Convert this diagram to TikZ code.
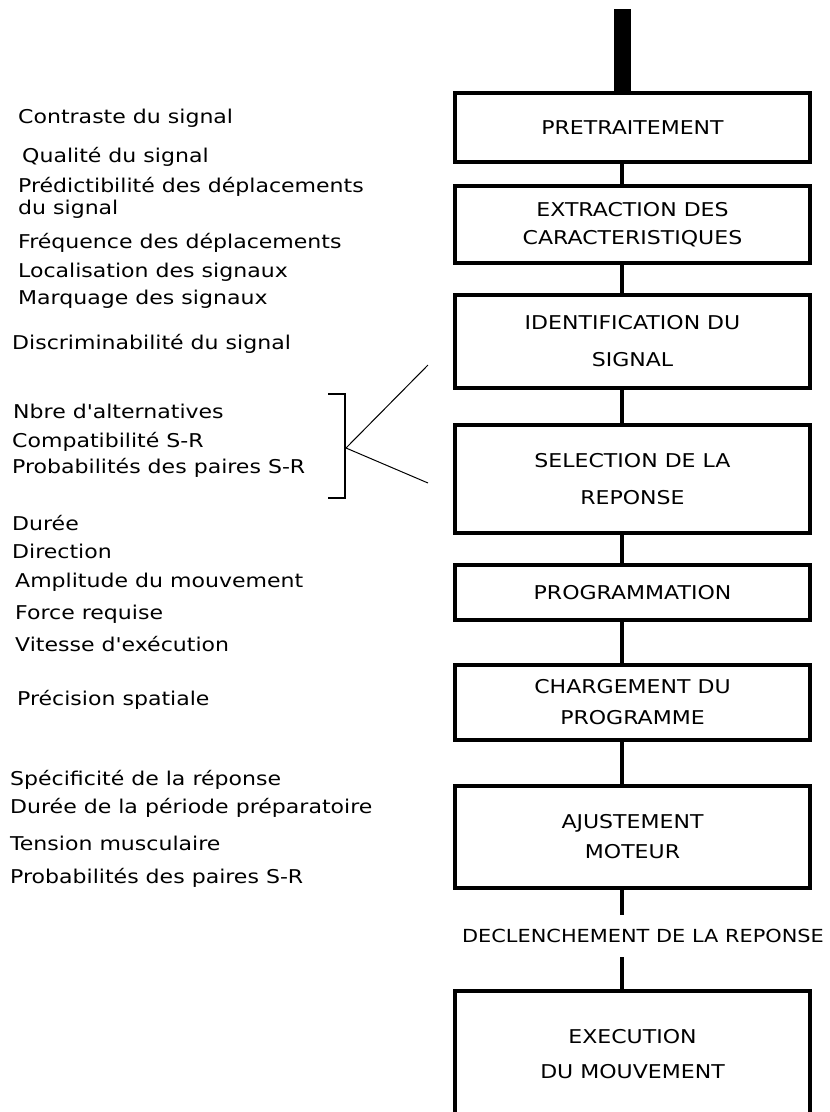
\documentclass[tikz,border=0pt]{standalone}
\usepackage{fontspec}
\newfontfamily\pixfont[FakeStretch=1.16]{DejaVu Sans}
\begin{document}
\begin{tikzpicture}[x=1pt,y=-1pt,
  stage/.style={draw,line width=4.5pt,minimum width=355pt,inner sep=0pt,align=center,
    font=\pixfont\fontsize{19}{24}\selectfont},
  factor/.style={anchor=west,inner sep=0pt,text height=14pt,text depth=4pt,
    font=\pixfont\fontsize{19}{24}\selectfont},
  link/.style={line width=4.5pt}]
\useasboundingbox (0,0) rectangle (830,1112);

% processing stages
\node[stage,minimum height=69pt] (pre) at (632.5,127.5) {PRETRAITEMENT};
\node[stage,minimum height=77pt] (extr) at (632.5,224.5) {EXTRACTION DES\\[4pt]CARACTERISTIQUES};
\node[stage,minimum height=93pt] (ident) at (632.5,341.5) {IDENTIFICATION DU\\[13pt]SIGNAL};
\node[stage,minimum height=108pt] (sel) at (632.5,479) {SELECTION DE LA\\[13pt]REPONSE};
\node[stage,minimum height=55pt] (prog) at (632.5,592.5) {PROGRAMMATION};
\node[stage,minimum height=75pt] (charg) at (632.5,702.5) {CHARGEMENT DU\\[7pt]PROGRAMME};
\node[stage,minimum height=102pt] (ajust) at (632.5,837) {AJUSTEMENT\\[6pt]MOTEUR};
\node[font=\pixfont\fontsize{18}{24}\selectfont,inner sep=0pt,minimum height=42pt] (decl) at (643,936)
  {DECLENCHEMENT DE LA REPONSE};
\node[stage,minimum height=127pt] (exec) at (632.5,1054.5) {EXECUTION\\[11pt]DU MOUVEMENT};

% input bar and links
\coordinate (axis) at (622,0);
\coordinate (feed) at (622,9);
\draw[line width=17pt] (feed) -- (pre.north -| axis);
\foreach \a/\b in {pre/extr,extr/ident,ident/sel,sel/prog,prog/charg,charg/ajust,ajust/decl,decl/exec}
  \draw[link] (\a.south -| axis) -- (\b.north -| axis);

% factors
\node[factor] (c1) at (18,118) {Contraste du signal};
\node[factor] (c2) at (22,157) {Qualité du signal};
\node[factor] (c3) at (18,187) {Prédictibilité des déplacements};
\node[factor] (c4) at (18,209) {du signal};
\node[factor] (c5) at (18,243) {Fréquence des déplacements};
\node[factor] (c6) at (18,272) {Localisation des signaux};
\node[factor] (c7) at (18,299) {Marquage des signaux};
\node[factor] (c8) at (12,344) {Discriminabilité du signal};

\node[factor] (s1) at (13,413) {Nbre d'alternatives};
\node[factor] (s2) at (12,442) {Compatibilité S-R};
\node[factor] (s3) at (12,468) {Probabilités des paires S-R};

\node[factor] (p1) at (12,525) {Durée};
\node[factor] (p2) at (12,553) {Direction};
\node[factor] (p3) at (15,582) {Amplitude du mouvement};
\node[factor] (p4) at (15,614) {Force requise};
\node[factor] (p5) at (15,646) {Vitesse d'exécution};
\node[factor] (p6) at (17,700) {Précision spatiale};

\node[factor] (m1) at (10,780) {Spécificité de la réponse};
\node[factor] (m2) at (10,808) {Durée de la période préparatoire};
\node[factor] (m3) at (10,845) {Tension musculaire};
\node[factor] (m4) at (10,878) {Probabilités des paires S-R};

% bracket and pointers
\coordinate (brtop) at (345,394);
\coordinate (brbot) at (345,498);
\coordinate (brk) at (346,448);
\coordinate (upend) at (428,365);
\coordinate (loend) at (428,483);
\draw[line width=2pt] ([xshift=-17pt]brtop) -- (brtop) -- (brbot) -- ([xshift=-17pt]brbot);
\draw[line width=1pt] (upend) -- (brk) -- (loend);

\end{tikzpicture}
\end{document}
